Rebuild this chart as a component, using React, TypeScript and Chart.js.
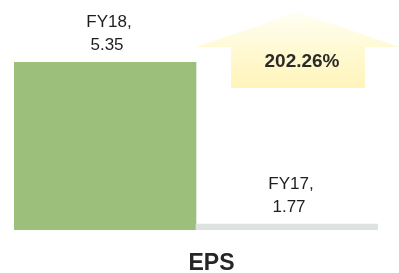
import React, { useEffect, useRef } from 'react';
import { Chart, registerables } from 'chart.js';

Chart.register(...registerables);

const categories = ['FY18', 'FY17'];
const epsValues = [5.35, 1.77];
const valueLabels = ['5.35', '1.77'];
const growthLabel = '202.26%';
const chartTitle = 'EPS';
const barColors = ['#9cbf7c', '#dfe2e3'];
const yMin = 1.64;

const FONT = "'Liberation Sans', Arial, sans-serif";

export default function App() {
  const ref = useRef<HTMLCanvasElement>(null);

  useEffect(() => {
    if (!ref.current) return;

    const arrowPlugin = {
      id: 'growthArrow',
      beforeDatasetsDraw(chart: any) {
        const ctx = chart.ctx;
        const area = chart.chartArea;
        const meta = chart.getDatasetMeta(0);
        const b: any = meta.data[1];
        const left = b.x - b.width / 2;
        const right = b.x + b.width / 2 + 22;
        const cx = b.x + 11;
        const apexY = area.top - 50;
        const baseY = area.top - 15;
        const bodyBottom = area.top + 26;
        const halfBody = 67;
        ctx.save();
        const g = ctx.createLinearGradient(0, apexY, 0, bodyBottom);
        g.addColorStop(0, '#fffef4');
        g.addColorStop(0.45, '#fffad6');
        g.addColorStop(1, '#fff4bb');
        ctx.fillStyle = g;
        ctx.beginPath();
        ctx.moveTo(cx, apexY);
        ctx.lineTo(right, baseY);
        ctx.lineTo(cx + halfBody, baseY);
        ctx.lineTo(cx + halfBody, bodyBottom);
        ctx.lineTo(cx - halfBody, bodyBottom);
        ctx.lineTo(cx - halfBody, baseY);
        ctx.lineTo(left, baseY);
        ctx.closePath();
        ctx.fill();
        ctx.fillStyle = '#2a2a2a';
        ctx.font = `bold 19px ${FONT}`;
        ctx.textAlign = 'center';
        ctx.textBaseline = 'middle';
        ctx.fillText(growthLabel, cx + 4, area.top);
        ctx.restore();
      },
      afterDatasetsDraw(chart: any) {
        const ctx = chart.ctx;
        const meta = chart.getDatasetMeta(0);
        ctx.save();
        ctx.fillStyle = '#1e1e1e';
        ctx.font = `17px ${FONT}`;
        ctx.textAlign = 'center';
        ctx.textBaseline = 'alphabetic';
        meta.data.forEach((el: any, i: number) => {
          ctx.fillText(valueLabels[i], el.x + 2, el.y - 12);
          ctx.fillText(categories[i] + ',', el.x + 4, el.y - 35);
        });
        ctx.font = `bold 23px ${FONT}`;
        ctx.fillStyle = '#262626';
        ctx.fillText(chartTitle, chart.width / 2 + 12, chart.height - 3);
        ctx.restore();
      },
    };

    const chart = new Chart(ref.current, {
      type: 'bar',
      data: {
        labels: categories,
        datasets: [
          {
            data: epsValues,
            backgroundColor: barColors,
            borderWidth: 0,
            categoryPercentage: 1,
            barPercentage: 1,
          },
        ],
      },
      options: {
        animation: false,
        responsive: false,
        layout: { padding: { top: 62, bottom: 43, left: 14, right: 21 } },
        plugins: { legend: { display: false }, tooltip: { enabled: false }, title: { display: false } },
        scales: {
          x: { display: false },
          y: { display: false, min: yMin, max: Math.max(...epsValues) },
        },
      },
      plugins: [arrowPlugin],
    });
    return () => chart.destroy();
  }, []);

  return (
    <div style={{ position: 'fixed', left: 0, top: 0, width: 399, height: 273, background: '#ffffff' }}>
      <canvas ref={ref} width={399} height={273} style={{ display: 'block' }} />
    </div>
  );
}
